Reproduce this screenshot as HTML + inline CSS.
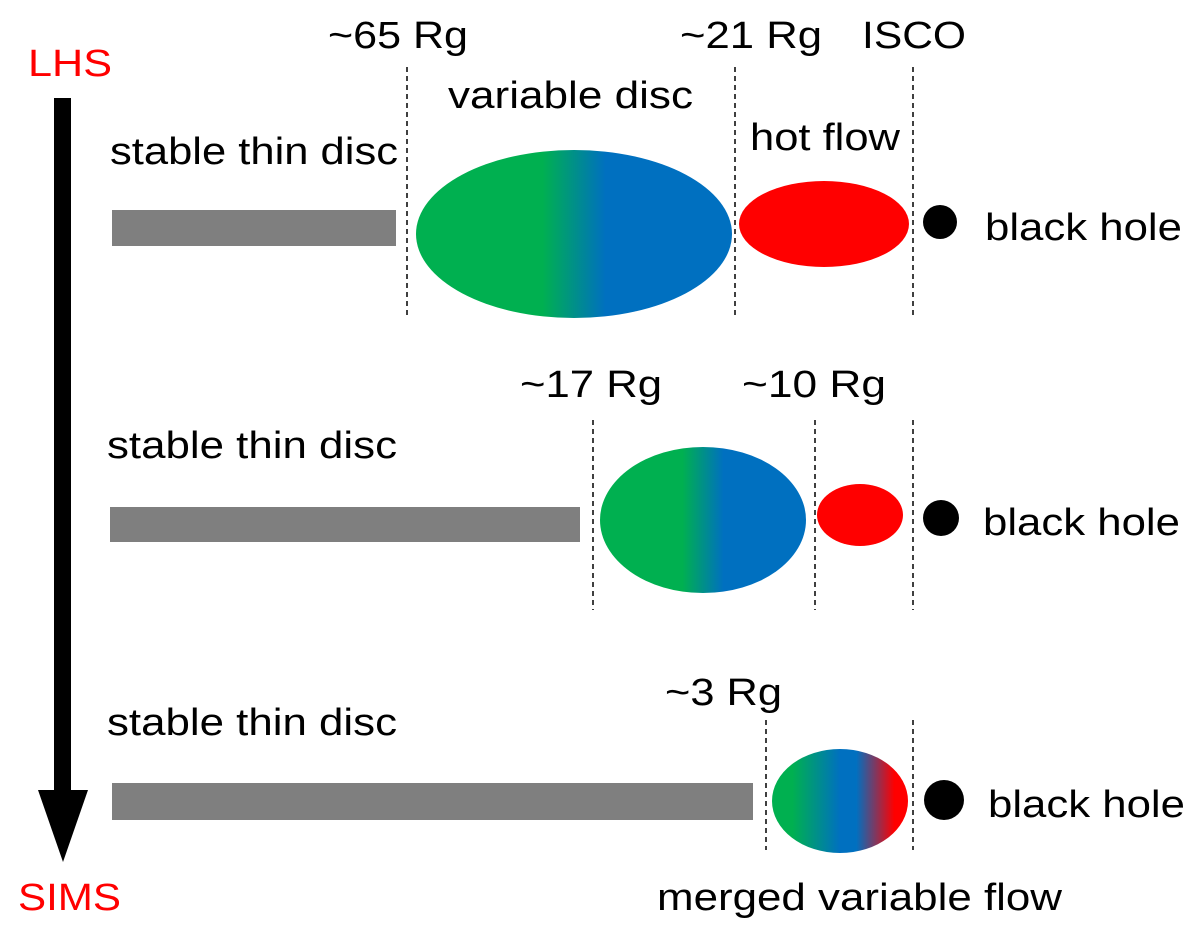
<!DOCTYPE html>
<html><head><meta charset="utf-8"><style>
html,body{margin:0;padding:0;background:#fff;}
svg text{font-family:"Liberation Sans",Arial,sans-serif;font-size:38px;fill:#000;}
</style></head><body>
<svg width="1200" height="930" viewBox="0 0 1200 930" xmlns="http://www.w3.org/2000/svg">
<defs>
<linearGradient id="gb" x1="0" x2="1" y1="0" y2="0">
<stop offset="0.4" stop-color="#00b050"/><stop offset="0.6" stop-color="#0070c0"/>
</linearGradient>
<linearGradient id="gbr" x1="0" x2="1" y1="0" y2="0">
<stop offset="0.15" stop-color="#00b050"/><stop offset="0.5" stop-color="#0070c0"/><stop offset="0.62" stop-color="#0070c0"/><stop offset="0.9" stop-color="#ff0000"/>
</linearGradient>
</defs>
<text x="28" y="76" textLength="84" lengthAdjust="spacingAndGlyphs" style="fill:#ff0000">LHS</text>
<rect x="54" y="98" width="17" height="700" fill="#000"/>
<polygon points="38,790 88,790 63,862" fill="#000"/>
<text x="18" y="910" textLength="103" lengthAdjust="spacingAndGlyphs" style="fill:#ff0000">SIMS</text>

<g stroke="#000" stroke-width="1.5" stroke-dasharray="5,4">
<line x1="407" y1="67" x2="407" y2="318"/><line x1="735" y1="67" x2="735" y2="318"/><line x1="913" y1="67" x2="913" y2="318"/>
<line x1="593" y1="420" x2="593" y2="610"/><line x1="815" y1="420" x2="815" y2="610"/><line x1="913" y1="420" x2="913" y2="610"/>
<line x1="766" y1="720" x2="766" y2="850"/><line x1="913" y1="720" x2="913" y2="850"/>
</g>

<text x="328" y="48" textLength="140" lengthAdjust="spacingAndGlyphs">~65 Rg</text>
<text x="680" y="48" textLength="142" lengthAdjust="spacingAndGlyphs">~21 Rg</text>
<text x="862" y="48" textLength="104" lengthAdjust="spacingAndGlyphs">ISCO</text>
<text x="448" y="108" textLength="245" lengthAdjust="spacingAndGlyphs">variable disc</text>
<text x="750" y="150" textLength="150" lengthAdjust="spacingAndGlyphs">hot flow</text>
<text x="110" y="164" textLength="288" lengthAdjust="spacingAndGlyphs">stable thin disc</text>
<rect x="112" y="210" width="284" height="36" fill="#7f7f7f"/>
<ellipse cx="574" cy="234" rx="158" ry="84" fill="url(#gb)"/>
<ellipse cx="824" cy="224" rx="85" ry="43" fill="#ff0000"/>
<circle cx="940" cy="222" r="17" fill="#000"/>
<text x="985" y="240" textLength="197" lengthAdjust="spacingAndGlyphs">black hole</text>

<text x="520" y="397" textLength="142" lengthAdjust="spacingAndGlyphs">~17 Rg</text>
<text x="742" y="397" textLength="144" lengthAdjust="spacingAndGlyphs">~10 Rg</text>
<text x="107" y="458" textLength="290" lengthAdjust="spacingAndGlyphs">stable thin disc</text>
<rect x="110" y="507" width="470" height="35" fill="#7f7f7f"/>
<ellipse cx="703" cy="520" rx="103" ry="73" fill="url(#gb)"/>
<ellipse cx="860" cy="515" rx="43" ry="31" fill="#ff0000"/>
<circle cx="941" cy="518" r="18" fill="#000"/>
<text x="983" y="535" textLength="197" lengthAdjust="spacingAndGlyphs">black hole</text>

<text x="665" y="705" textLength="117" lengthAdjust="spacingAndGlyphs">~3 Rg</text>
<text x="107" y="735" textLength="290" lengthAdjust="spacingAndGlyphs">stable thin disc</text>
<rect x="112" y="783" width="641" height="37" fill="#7f7f7f"/>
<ellipse cx="840" cy="801" rx="68" ry="52" fill="url(#gbr)"/>
<circle cx="944" cy="800" r="20" fill="#000"/>
<text x="988" y="817" textLength="197" lengthAdjust="spacingAndGlyphs">black hole</text>
<text x="657" y="910" textLength="405" lengthAdjust="spacingAndGlyphs">merged variable flow</text>
</svg>
</body></html>
